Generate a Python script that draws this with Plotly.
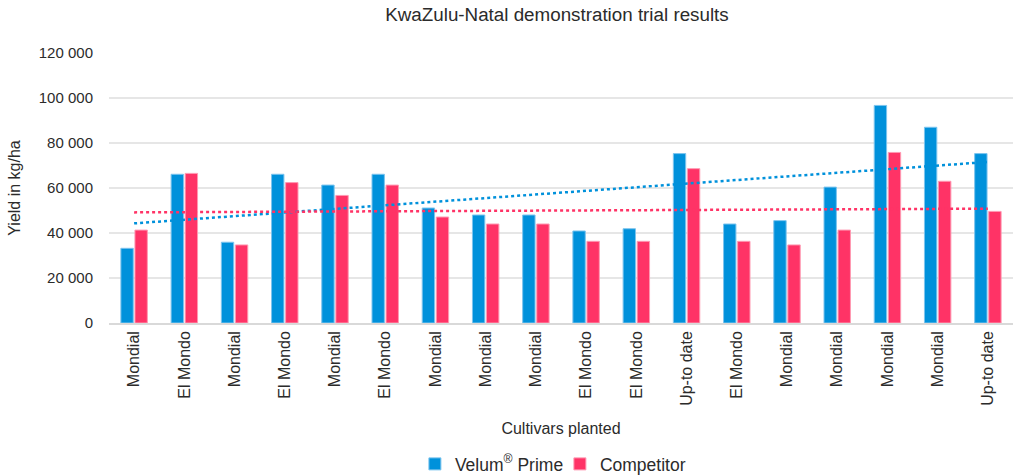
import numpy as np
import plotly.graph_objects as go

cultivars = ["Mondial", "El Mondo", "Mondial", "El Mondo", "Mondial", "El Mondo",
             "Mondial", "Mondial", "Mondial", "El Mondo", "El Mondo", "Up-to date",
             "El Mondo", "Mondial", "Mondial", "Mondial", "Mondial", "Up-to date"]
velum = [33200, 66100, 35900, 66100, 61300, 66100, 51100, 48000, 48000, 40900,
         41900, 75300, 44000, 45500, 60400, 96700, 87000, 75300]
competitor = [41300, 66500, 34700, 62400, 56700, 61300, 47100, 44000, 44000, 36300,
              36300, 68600, 36300, 34700, 41300, 75800, 63000, 49600]
y_ticks = [0, 20000, 40000, 60000, 80000, 100000, 120000]

BLUE = "#0091DB"
RED = "#FF3366"
TXT = "#2b2b2b"
FONT = "Liberation Sans, Arial, sans-serif"

x = np.arange(len(cultivars))

def trend(vals):
    m, c = np.polyfit(x, np.array(vals, dtype=float), 1)
    return m * x + c

fig = go.Figure()
fig.add_trace(go.Bar(x=x, y=velum, name="Velum<sup>®</sup> Prime",
                     marker=dict(color=BLUE, line=dict(color="#7cc4ee", width=1))))
fig.add_trace(go.Bar(x=x, y=competitor, name="Competitor",
                     marker=dict(color=RED, line=dict(color="#ff99b2", width=1))))
fig.add_trace(go.Scatter(x=x, y=trend(velum), mode="lines", showlegend=False,
                         line=dict(color=BLUE, width=2.5, dash="dot"), hoverinfo="skip"))
fig.add_trace(go.Scatter(x=x, y=trend(competitor), mode="lines", showlegend=False,
                         line=dict(color=RED, width=2.5, dash="dot"), hoverinfo="skip"))

fig.update_layout(
    width=1018, height=476,
    margin=dict(l=109, r=5, t=53, b=153, autoexpand=False),
    paper_bgcolor="white", plot_bgcolor="white",
    separators=", ",
    font=dict(family=FONT, color=TXT, size=15),
    title=dict(text="KwaZulu-Natal demonstration trial results", x=557 / 1018,
               xanchor="center", xref="container", y=1 - 14 / 476, yref="container",
               yanchor="middle", font=dict(size=18.8, color=TXT)),
    barmode="group", bargap=0.44, bargroupgap=0.12,
    legend=dict(orientation="h", x=0.55, xanchor="center", xref="container",
                y=1 - 464 / 476, yref="container", yanchor="middle",
                font=dict(size=17.5, color=TXT), itemwidth=30, traceorder="normal",
                entrywidth=100),
    showlegend=True,
)
fig.update_xaxes(
    tickmode="array", tickvals=list(x), ticktext=cultivars, tickangle=-90,
    range=[-0.5, len(cultivars) - 0.5], showgrid=False, showline=True,
    linecolor="#d9d9d9", linewidth=1.5, ticks="", tickfont=dict(size=16, color=TXT),
    automargin=False,
    title=dict(text="Cultivars planted", font=dict(size=16, color=TXT), standoff=18),
)
fig.update_yaxes(
    range=[0, 120000], tickmode="array", tickvals=y_ticks, tickformat=",d",
    showgrid=True, gridcolor="#e6e6e6", gridwidth=1.5, zeroline=False, showline=False,
    ticks="", tickfont=dict(size=15, color=TXT), ticklabelstandoff=15,
    automargin=False,
    title=dict(text="Yield in kg/ha", font=dict(size=16, color=TXT), standoff=14),
)

fig.write_html("out.html", config={"displayModeBar": False},
               post_script="document.body.style.margin='0';document.body.style.overflow='hidden';")
